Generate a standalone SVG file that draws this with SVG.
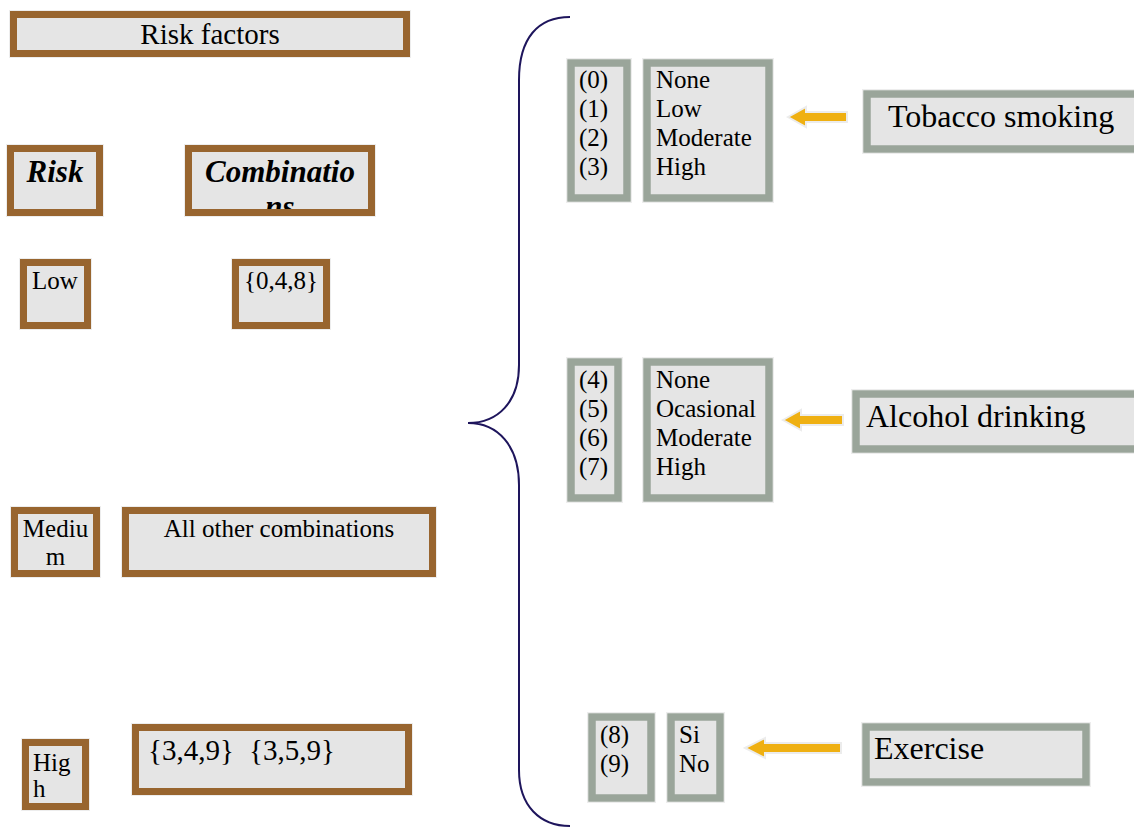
<svg xmlns="http://www.w3.org/2000/svg" width="1134" height="827" viewBox="0 0 1134 827">
<style>
text{font-family:"Liberation Serif","Times New Roman",serif;fill:#000}
.b{fill:#e5e5e5;stroke:#98652f;stroke-width:7}
.g{fill:#e5e5e5;stroke:#9aa59a;stroke-width:7.5}
.halo{fill:none;stroke:#ededed;stroke-width:1}
.t24{font-size:25px}
.t28{font-size:29px}
.t32{font-size:32px}
.bi{font-size:31px;font-weight:bold;font-style:italic}
.arr{fill:#efb012;stroke:#ececec;stroke-width:2}
.brace{fill:none;stroke:#1e155c;stroke-width:2}
</style>
<defs>
<clipPath id="combClip"><rect x="192" y="152" width="176" height="57"/></clipPath>
</defs>
<rect width="1134" height="827" fill="#fff"/>

<g id="risk-factors">
<rect class="halo" x="9.5" y="10.5" width="401" height="47"/>
<rect class="b" x="13.5" y="14.5" width="393" height="39"/>
<text class="t28" x="210" y="44" text-anchor="middle">Risk factors</text>
</g>
<g id="risk-header">
<rect class="halo" x="6.5" y="144.5" width="97" height="72"/>
<rect class="b" x="10.5" y="148.5" width="89" height="64"/>
<text class="bi" x="55" y="182" text-anchor="middle">Risk</text>
</g>
<g id="combinations-header">
<rect class="halo" x="184.5" y="144.5" width="191" height="72"/>
<rect class="b" x="188.5" y="148.5" width="183" height="64"/>
<g clip-path="url(#combClip)">
<text class="bi" x="280" y="182" text-anchor="middle">Combinatio</text>
<text class="bi" x="280" y="217" text-anchor="middle">ns</text>
</g>
</g>
<g id="low">
<rect class="halo" x="19.5" y="258.5" width="72" height="71"/>
<rect class="b" x="23.5" y="262.5" width="64" height="63"/>
<text class="t24" x="55" y="289" text-anchor="middle">Low</text>
</g>
<g id="low-comb">
<rect class="halo" x="231.5" y="258.5" width="99" height="71"/>
<rect class="b" x="235.5" y="262.5" width="91" height="63"/>
<text class="t24" x="281" y="289" text-anchor="middle">{0,4,8}</text>
</g>
<g id="medium">
<rect class="halo" x="10.5" y="506.5" width="90" height="71"/>
<rect class="b" x="14.5" y="510.5" width="82" height="63"/>
<text class="t24" x="55.5" y="537" text-anchor="middle">Mediu</text>
<text class="t24" x="55.5" y="565" text-anchor="middle">m</text>
</g>
<g id="medium-comb">
<rect class="halo" x="121.5" y="506.5" width="315" height="71"/>
<rect class="b" x="125.5" y="510.5" width="307" height="63"/>
<text class="t24" x="279" y="537" text-anchor="middle">All other combinations</text>
</g>
<g id="high">
<rect class="halo" x="21.5" y="738.5" width="68" height="72"/>
<rect class="b" x="25.5" y="742.5" width="60" height="64"/>
<text class="t24" x="33" y="771">Hig</text>
<text class="t24" x="33" y="797">h</text>
</g>
<g id="high-comb">
<rect class="halo" x="131.5" y="723.5" width="281" height="72"/>
<rect class="b" x="135.5" y="727.5" width="273" height="64"/>
<text class="t28" x="148" y="760">{3,4,9}<tspan x="249">{3,5,9}</tspan></text>
</g>

<g id="brace">
<path class="brace" d="M570,17 C538,17 519,38 519,80 L519,365 C519,402 498,423 468,423 C498,423 519,446 519,485 L519,770 C519,806 540,826 570,826"/>
</g>

<g id="tobacco-codes">
<rect class="halo" x="566.5" y="58.5" width="65" height="144"/>
<rect class="g" x="571" y="63" width="56" height="135"/>
<text class="t24" x="579" y="88">(0)</text>
<text class="t24" x="579" y="117">(1)</text>
<text class="t24" x="579" y="146">(2)</text>
<text class="t24" x="579" y="175">(3)</text>
</g>
<g id="tobacco-levels">
<rect class="halo" x="642.5" y="58.5" width="131" height="144"/>
<rect class="g" x="647" y="63" width="122" height="135"/>
<text class="t24" x="656" y="88">None</text>
<text class="t24" x="656" y="117">Low</text>
<text class="t24" x="656" y="146">Moderate</text>
<text class="t24" x="656" y="175">High</text>
</g>
<g id="tobacco">
<rect class="halo" x="862.5" y="89.5" width="290" height="64"/>
<rect class="g" x="867" y="94" width="280" height="55"/>
<text class="t32" x="888" y="127">Tobacco smoking</text>
</g>

<g id="alcohol-codes">
<rect class="halo" x="566.5" y="357.5" width="56" height="145"/>
<rect class="g" x="571" y="362" width="47" height="136"/>
<text class="t24" x="579" y="388">(4)</text>
<text class="t24" x="579" y="417">(5)</text>
<text class="t24" x="579" y="446">(6)</text>
<text class="t24" x="579" y="475">(7)</text>
</g>
<g id="alcohol-levels">
<rect class="halo" x="642.5" y="357.5" width="131" height="145"/>
<rect class="g" x="647" y="362" width="122" height="136"/>
<text class="t24" x="656" y="388">None</text>
<text class="t24" x="656" y="417">Ocasional</text>
<text class="t24" x="656" y="446">Moderate</text>
<text class="t24" x="656" y="475">High</text>
</g>
<g id="alcohol">
<rect class="halo" x="851.5" y="389.5" width="300" height="64"/>
<rect class="g" x="856" y="394" width="290" height="55"/>
<text class="t32" x="866" y="427">Alcohol drinking</text>
</g>

<g id="exercise-codes">
<rect class="halo" x="587.5" y="712.5" width="68" height="90"/>
<rect class="g" x="592" y="717" width="59" height="81"/>
<text class="t24" x="600" y="743">(8)</text>
<text class="t24" x="600" y="772">(9)</text>
</g>
<g id="exercise-levels">
<rect class="halo" x="666.5" y="712.5" width="58" height="90"/>
<rect class="g" x="671" y="717" width="49" height="81"/>
<text class="t24" x="679" y="743">Si</text>
<text class="t24" x="679" y="772">No</text>
</g>
<g id="exercise">
<rect class="halo" x="861.5" y="722.5" width="229" height="64"/>
<rect class="g" x="866" y="727" width="220" height="55"/>
<text class="t32" x="874" y="759">Exercise</text>
</g>

<g id="connectors">
<polygon class="arr" points="788,117 806,107 806,112 847,112 847,122 806,122 806,127"/>
<polygon class="arr" points="783,420 801,410 801,415 843,415 843,425 801,425 801,430"/>
<polygon class="arr" points="745,748 765,738 765,743 841,743 841,753 765,753 765,758"/>
</g>
</svg>
